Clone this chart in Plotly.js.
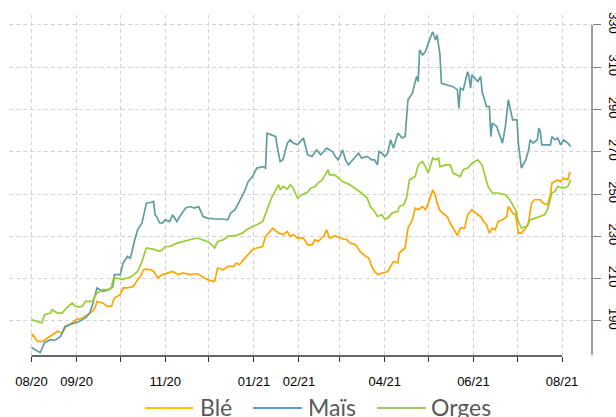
<!DOCTYPE html>
<html>
<head>
<meta charset="utf-8">
<script src="https://cdn.plot.ly/plotly-3.0.1.min.js"></script>
<style>html,body{margin:0;padding:0;background:#fff;}#chart{width:616px;height:417px;}</style>
</head>
<body>
<div id="chart"></div>
<script>
// Day offsets counted from 2020-08-01
const baseDate = '2020-08-01';

const maisDays = [0,6,9,13,16,20,23,26,30,33,37,40,42,45,49,53,56,57,61,63,66,68,71,73,76,79,82,84,85,86,88,90,92,95,97,100,102,106,109,112,115,118,121,126,131,135,137,140,143,147,149,152,155,159,161,162,165,168,169,171,173,176,178,180,183,187,190,193,196,199,203,207,209,211,214,216,218,221,225,227,231,234,236,238,239,241,243,245,247,249,252,255,257,259,262,264,265,266,267,269,271,273,276,278,279,280,281,282,286,290,293,294,295,297,300,301,302,303,307,309,310,313,315,316,317,320,324,326,328,329,331,334,335,337,340,342,343,345,348,349,350,351,355,357,358,360,362,364,366,369,371];
const maisValues = [177.4,175.0,179.7,181.1,180.8,182.7,187.4,188.2,189.0,189.8,191.4,193.7,197.7,205.6,204.0,204.8,206.3,211.9,211.9,217.4,220.5,219.7,228.4,233.1,236.3,245.7,246.0,246.5,240.2,239.4,236.4,236.3,237.8,237.0,240.2,237.0,239.4,243.4,244.1,243.4,244.1,239.4,238.6,238.2,238.2,237.8,241.0,242.6,246.5,252.0,255.9,258.3,262.3,263.0,262.3,278.8,278.0,277.2,272.5,265.4,266.2,274.1,275.7,274.1,273.3,276.5,268.6,267.8,270.9,268.6,271.7,270.1,267.8,266.2,270.9,266.2,263.8,266.2,269.3,267.0,267.8,266.2,266.2,263.8,270.1,269.3,267.8,269.3,275.7,271.7,278.8,276.5,277.2,294.6,297.7,303.2,305.6,303.2,318.2,315.8,317.4,321.4,326.8,322.9,325.3,320.5,315.8,302.4,301.6,300.8,299.3,290.6,300.1,299.3,307.9,305.6,300.1,306.4,303.2,305.6,298.5,291.4,291.4,277.2,283.6,282.0,274.1,282.0,294.6,291.4,285.1,285.1,273.3,262.3,266.2,270.9,275.7,274.1,275.7,281.2,279.6,273.3,273.3,273.3,277.2,275.7,276.5,273.3,275.7,274.1,272.5];

const orgesDays = [0,4,7,9,13,14,18,21,24,28,30,33,35,37,42,43,45,49,53,55,56,59,62,66,69,73,76,79,82,85,88,90,92,95,100,104,109,114,118,121,124,126,128,132,135,140,145,148,152,155,159,161,163,165,168,170,171,173,176,178,180,183,186,188,190,192,195,197,200,202,204,205,208,210,214,219,224,227,231,233,236,238,241,243,245,248,252,253,256,258,260,264,266,269,271,273,276,278,280,281,285,288,290,293,295,297,300,303,307,310,312,314,317,321,326,329,333,335,337,341,343,346,350,353,355,358,360,362,366,369,371];
const orgesValues = [190.6,189.8,189.0,192.9,193.7,195.3,193.7,193.7,196.1,198.5,196.9,196.6,196.9,199.2,199.2,200.8,203.2,204.8,204.8,205.6,209.5,210.3,209.5,210.3,211.1,213.4,218.1,224.5,224.2,223.7,222.9,223.7,225.2,225.2,226.8,227.6,228.4,229.2,228.4,227.6,226.0,224.5,227.6,228.4,230.0,230.3,231.5,233.1,234.7,235.5,237.0,241.0,244.9,248.1,252.0,254.4,252.0,253.6,252.3,254.4,252.8,248.1,249.7,250.5,251.0,252.8,253.6,255.2,256.7,259.1,261.5,259.1,259.1,258.3,255.9,254.4,252.0,250.5,248.1,244.1,241.8,239.4,240.2,238.2,238.6,241.0,241.8,244.1,244.9,248.1,256.7,258.3,263.8,265.4,263.0,259.9,267.0,266.2,267.0,263.0,263.8,263.8,259.9,259.1,258.3,261.5,262.3,264.6,266.2,263.8,258.3,253.6,250.5,250.5,249.7,247.3,242.6,237.0,233.9,234.7,237.8,238.6,239.4,240.2,242.6,250.5,251.2,253.6,252.8,253.6,256.7];

const bleDays = [0,1,4,8,11,15,18,21,24,28,31,35,38,42,44,45,49,52,55,57,61,63,66,70,73,75,77,79,82,84,87,90,94,97,101,104,109,114,117,121,125,126,128,132,135,139,141,143,146,149,152,155,159,161,164,166,170,173,176,178,180,183,187,190,193,195,197,201,203,205,209,212,217,219,223,226,230,232,234,236,238,241,245,247,249,252,253,257,259,262,264,266,269,271,273,276,278,279,281,283,285,286,288,291,293,295,298,300,303,307,309,311,313,315,317,319,321,324,327,328,331,333,335,337,340,342,344,346,350,352,355,357,358,362,364,366,369,370,371];
const bleValues = [182.7,183.5,180.3,180.3,181.9,183.5,185.1,184.3,187.4,189.0,190.6,191.4,192.9,194.5,196.9,199.2,198.5,196.9,196.9,200.8,202.4,205.6,205.6,206.3,209.5,211.1,214.2,214.5,214.2,213.4,210.3,211.9,212.7,213.4,211.9,212.7,211.9,212.3,211.1,209.5,208.7,208.7,215.0,214.2,215.8,215.8,217.4,216.6,219.1,221.3,223.7,224.5,225.2,230.0,232.3,233.9,231.5,230.8,232.3,230.0,230.8,229.2,229.2,226.0,226.0,228.4,227.6,230.0,233.1,229.2,230.3,229.2,228.4,226.8,226.0,222.9,220.5,219.7,215.8,213.4,211.9,212.7,213.4,215.8,218.1,217.4,222.1,224.5,233.9,237.8,243.4,242.6,244.1,242.6,245.7,252.0,248.9,245.7,242.2,241.0,240.2,239.4,236.3,232.7,230.4,233.9,233.9,240.2,242.6,240.2,239.4,237.0,235.5,231.5,233.9,233.1,237.0,237.8,239.4,244.1,241.0,240.2,231.5,231.5,233.9,237.0,245.7,247.3,247.3,245.7,244.9,249.7,255.2,256.7,255.9,257.5,256.7,259.9,260.2];

const seriesNames = ['Blé', 'Maïs', 'Orges'];
const lineColors = ['#FFA500', '#5F9EA0', '#9ACD32'];
const legendColors = ['#FFC000', '#5B9BD5', '#A0C768'];

const tickMonths = ['2020-08-01','2020-09-01','2020-10-01','2020-11-01','2020-12-01','2021-01-01','2021-02-01','2021-03-01','2021-04-01','2021-05-01','2021-06-01','2021-07-01','2021-08-01'];
const tickLabels = ['08/20','09/20','','11/20','','01/21','02/21','','04/21','','06/21','','08/21'];
const yTicks = [190,210,230,250,270,290,310,330];
const xRange = ['2020-07-16 12:00','2021-08-21 14:00'];
const yRange = [173.4, 334.7];

// ---- layout geometry (pixels) ----
const W = 616, H = 417;
const M = {l: 9, r: 24, t: 15, b: 61};
const plotW = W - M.l - M.r, plotH = H - M.t - M.b;
const px2x = p => (p - M.l) / plotW;
const px2y = p => (H - M.b - p) / plotH;

function toDates(days) {
  const b = Date.parse(baseDate + 'T00:00:00Z');
  return days.map(d => new Date(b + d * 86400000).toISOString().slice(0, 10));
}
const tms = s => Date.parse(s.replace(' ', 'T') + (s.length > 10 ? ':00Z' : 'T00:00:00Z'));
const dateToPaper = s => (tms(s) - tms(xRange[0])) / (tms(xRange[1]) - tms(xRange[0]));
const valToPaper = v => (v - yRange[0]) / (yRange[1] - yRange[0]);

const dataSets = [[bleDays, bleValues], [maisDays, maisValues], [orgesDays, orgesValues]];
const traces = dataSets.map((s, i) => ({
  x: toDates(s[0]), y: s[1], type: 'scatter', mode: 'lines', name: seriesNames[i],
  line: {color: lineColors[i], width: 1.7}, showlegend: false, hoverinfo: 'skip'
}));

// axis lines (R style: from first to last tick)
const shapes = [
  {type: 'line', xref: 'paper', yref: 'paper',
   x0: dateToPaper(tickMonths[0]), x1: dateToPaper(tickMonths[tickMonths.length - 1]), y0: 0, y1: 0,
   line: {color: '#333', width: 1.3}},
  {type: 'line', xref: 'paper', yref: 'paper', x0: 1, x1: 1,
   y0: valToPaper(yTicks[yTicks.length - 1]), y1: 0.003, line: {color: '#808080', width: 1.5}}
];

// custom legend (line sample + label)
const legendItems = [
  {x0: 145, x1: 193, tx: 198},
  {x0: 253, x1: 302, tx: 306},
  {x0: 377, x1: 426, tx: 429}
];
const legendY = 408;
const annotations = [{
  text: 'Evolution des indices mondiaux des céréales',
  xref: 'paper', yref: 'paper', x: px2x(319), y: 1, xanchor: 'center', yanchor: 'bottom',
  yshift: 9, showarrow: false,
  font: {family: 'Liberation Sans, Arial, sans-serif', size: 24, color: '#111'}
}];
legendItems.forEach((it, i) => {
  shapes.push({type: 'line', xref: 'paper', yref: 'paper',
    x0: px2x(it.x0), x1: px2x(it.x1), y0: px2y(legendY), y1: px2y(legendY),
    line: {color: legendColors[i], width: 2}});
  annotations.push({text: seriesNames[i], xref: 'paper', yref: 'paper',
    x: px2x(it.tx), y: px2y(legendY - 1), xanchor: 'left', yanchor: 'middle', showarrow: false,
    font: {family: 'Lato, sans-serif', size: 23, color: '#595959'}});
});

const layout = {
  width: W, height: H,
  margin: M,
  paper_bgcolor: '#fff', plot_bgcolor: '#fff',
  showlegend: false,
  font: {family: 'Liberation Sans, Arial, sans-serif', color: '#000'},
  xaxis: {
    type: 'date', range: xRange,
    tickmode: 'array', tickvals: tickMonths, ticktext: tickLabels,
    ticks: 'outside', ticklen: 5, tickcolor: '#333', tickwidth: 1,
    tickfont: {size: 13, color: '#000'}, ticklabelstandoff: 8,
    showgrid: true, gridcolor: '#D3D3D3', griddash: '4px,3px', gridwidth: 1,
    showline: false, zeroline: false, fixedrange: true, automargin: false
  },
  yaxis: {
    side: 'right', range: yRange,
    tickmode: 'array', tickvals: yTicks, ticktext: yTicks.map(String),
    ticks: 'outside', ticklen: 8, tickcolor: '#808080', tickwidth: 1,
    tickangle: 90, tickfont: {size: 13, color: '#000'}, ticklabelstandoff: 3,
    showgrid: true, gridcolor: '#D3D3D3', griddash: '4px,3px', gridwidth: 1,
    showline: false, zeroline: false, fixedrange: true, automargin: false
  },
  shapes: shapes,
  annotations: annotations
};

Plotly.newPlot('chart', traces, layout, {displayModeBar: false, staticPlot: true});
</script>
</body>
</html>
